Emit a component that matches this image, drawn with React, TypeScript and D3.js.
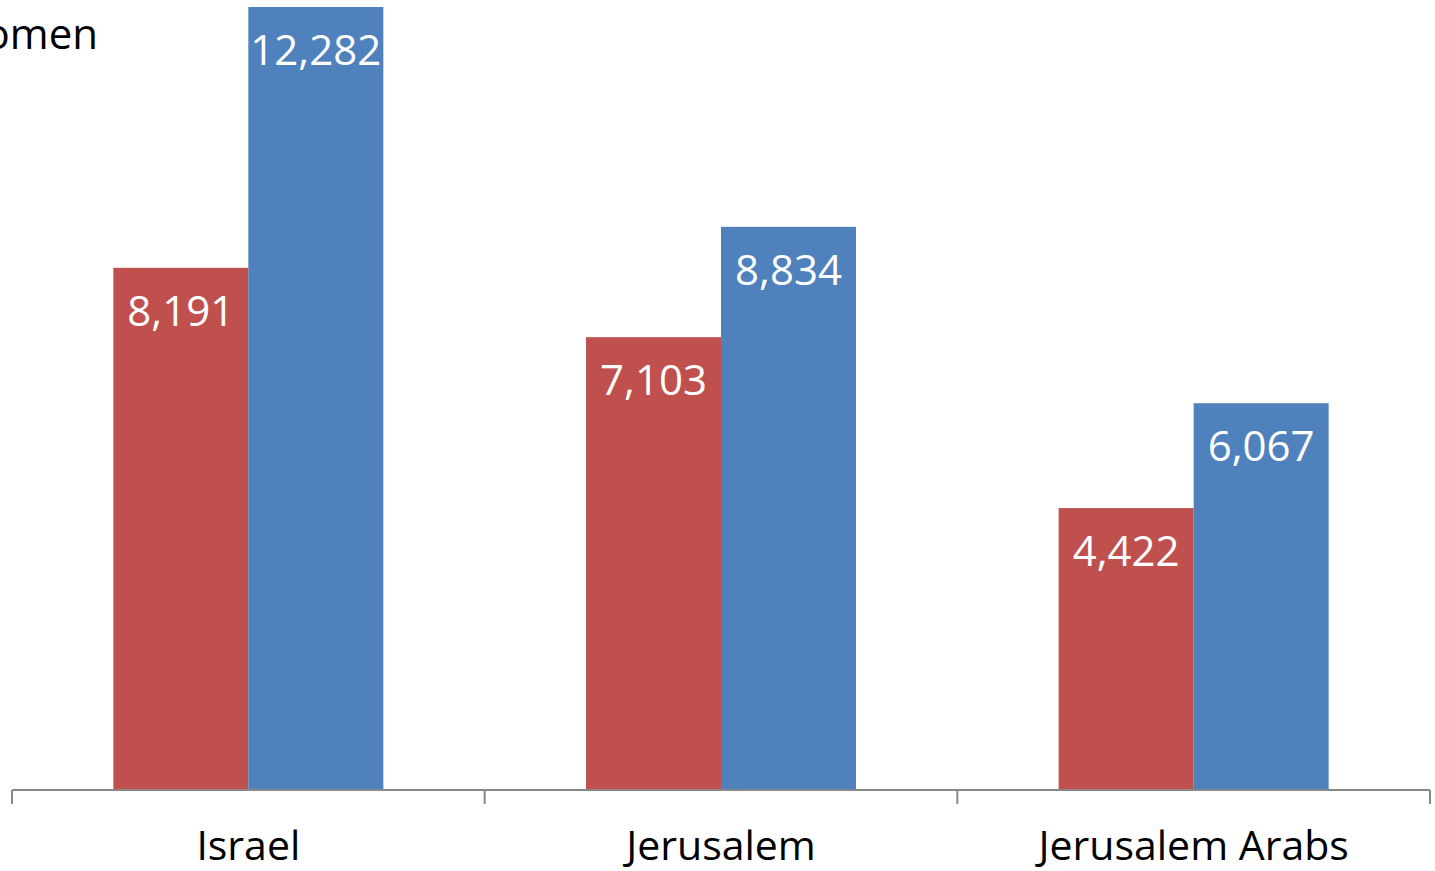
import React from "react";
import * as d3 from "d3";

const categories = ["Israel", "Jerusalem", "Jerusalem Arabs"];
const seriesNames = ["Women", "Men"];
const women = [8191, 7103, 4422];
const men = [12282, 8834, 6067];
const seriesColors = ["#C0504D", "#4F81BD"];

const W = 1435;
const H = 871;

export default function App() {
  const x = d3.scaleBand<string>().domain(categories).range([12, 1430]).paddingInner(0).paddingOuter(0);
  const yMax = 12282;
  const y = d3.scaleLinear().domain([0, yMax]).range([790, 7]);
  const series = [women, men];
  const fmt = d3.format(",");
  const font = "'Open Sans', sans-serif";
  const groupW = 270;
  const barW = groupW / 2;
  const ticks = [...categories.map((c) => x(c) as number), 1430];

  return (
    <svg width={W} height={H} style={{ position: "absolute", left: 0, top: 0 }}>
      <rect width={W} height={H} fill="#fff" />
      {categories.map((c, i) => {
        const cx = (x(c) as number) + x.bandwidth() / 2;
        return (
          <g key={c}>
            {series.map((vals, s) => {
              const bx = cx - groupW / 2 + s * barW;
              const by = y(vals[i]);
              return (
                <g key={s}>
                  <rect x={bx} y={by} width={barW} height={790 - by} fill={seriesColors[s]} />
                  <text
                    x={bx + barW / 2}
                    y={by + 58}
                    textAnchor="middle"
                    fill="#fff"
                    fontFamily={font}
                    fontSize={42}
                  >
                    {fmt(vals[i])}
                  </text>
                </g>
              );
            })}
            <text x={cx} y={860} textAnchor="middle" fill="#000" fontFamily={font} fontSize={41}>
              {c}
            </text>
          </g>
        );
      })}
      <line x1={12} x2={1430} y1={790} y2={790} stroke="#888" strokeWidth={2} />
      {ticks.map((t, i) => (
        <line key={i} x1={t} x2={t} y1={790} y2={804} stroke="#888" strokeWidth={2} />
      ))}
      <text x={98} y={49} textAnchor="end" fill="#000" fontFamily={font} fontSize={42}>
        {seriesNames[0]}
      </text>
    </svg>
  );
}
